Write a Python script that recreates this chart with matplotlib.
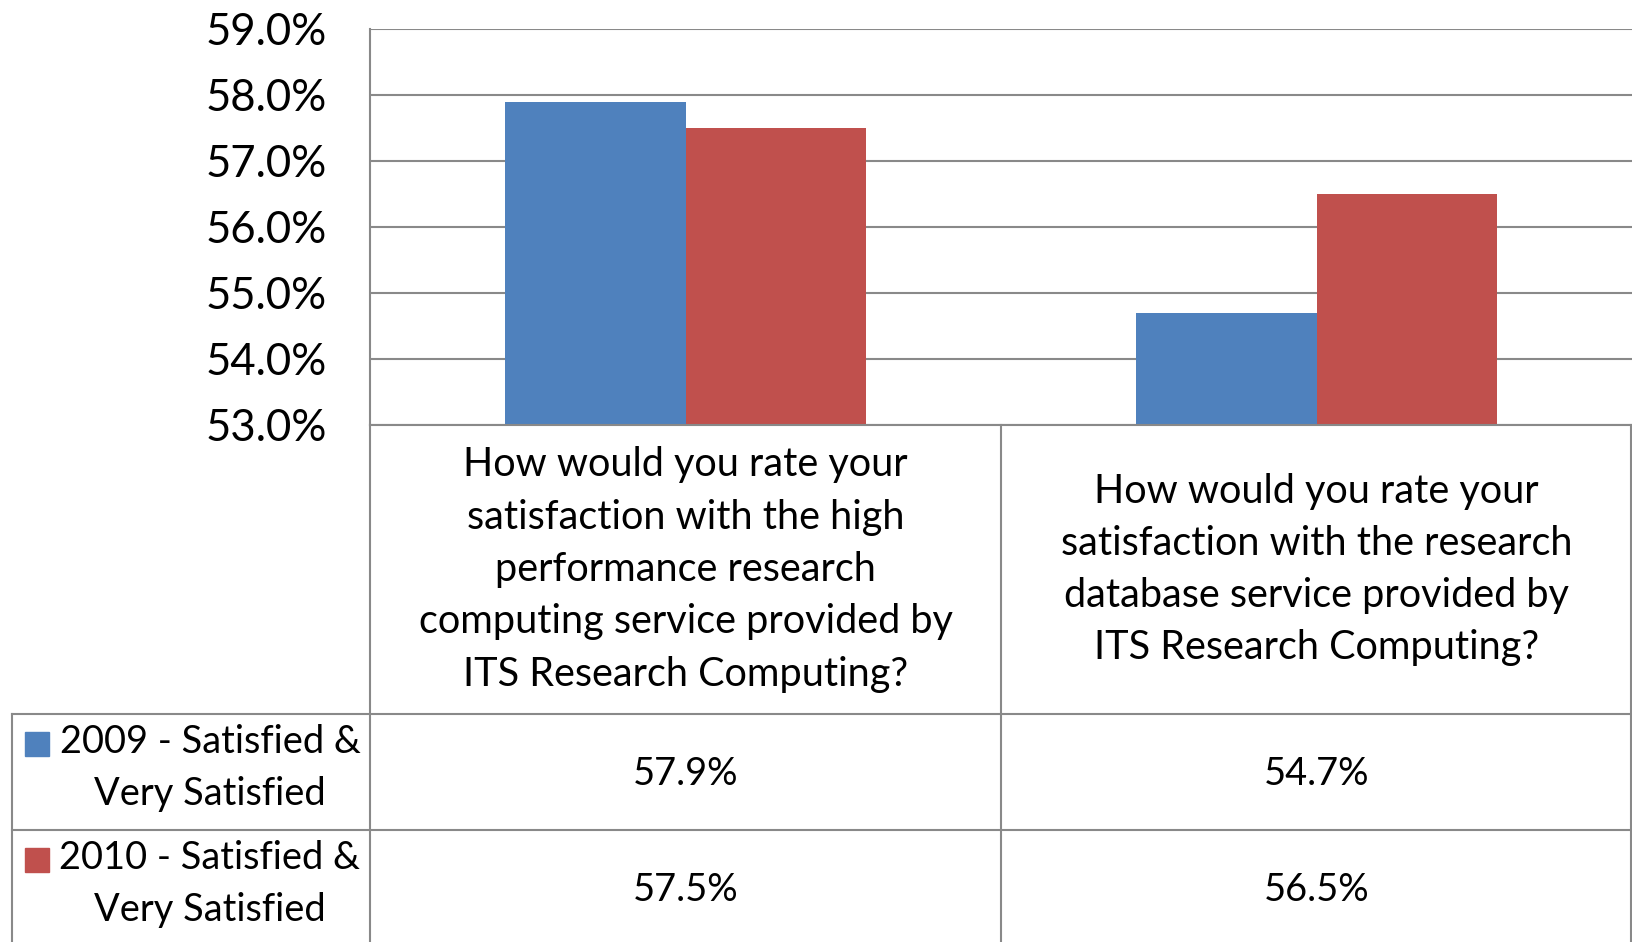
import matplotlib
matplotlib.use("Agg")
from matplotlib import pyplot as plt
from matplotlib.lines import Line2D
from matplotlib.patches import Rectangle
import numpy as np

plt.rcParams['font.family'] = ['Lato', 'DejaVu Sans']

questions = [
    "How would you rate your\nsatisfaction with the high\nperformance research\ncomputing service provided by\nITS Research Computing?",
    "How would you rate your\nsatisfaction with the research\ndatabase service provided by\nITS Research Computing?",
]
series = ["2009 - Satisfied &\nVery Satisfied", "2010 - Satisfied &\nVery Satisfied"]
values_2009 = [57.9, 54.7]
values_2010 = [57.5, 56.5]
colors = ["#4F81BD", "#C0504D"]
yticks = [53, 54, 55, 56, 57, 58, 59]

W, H = 1632, 942
fig = plt.figure(figsize=(W / 100, H / 100), dpi=100)

def fx(px):
    return px / W

def fy(py):
    return 1 - py / H

# pixel layout
left, right, top, bottom = 370, 1632, 29, 425
head_bot, row1_bot = 714, 830
leg_left = 12
grid = "#898989"

ax = fig.add_axes([fx(left), fy(bottom), fx(right) - fx(left), fy(top) - fy(bottom)])
x = np.arange(len(questions))
w = 1 / 3.5
ax.bar(x - w / 2, values_2009, w, color=colors[0], zorder=3)
ax.bar(x + w / 2, values_2010, w, color=colors[1], zorder=3)
ax.set_xlim(-0.5, len(questions) - 0.5)
ax.set_ylim(yticks[0], yticks[-1])
ax.set_yticks(yticks)
ax.set_yticklabels([f"{v:.1f}%" for v in yticks], fontsize=31.5)
ax.tick_params(axis="y", length=0, pad=31)
ax.set_xticks([])
ax.yaxis.grid(True, color=grid, lw=1.5, zorder=0)
for s in ["top", "right", "bottom"]:
    ax.spines[s].set_visible(False)
ax.spines["left"].set_color(grid)
ax.spines["left"].set_linewidth(1.5)

def hline(y, x0, x1):
    fig.add_artist(Line2D([fx(x0), fx(x1)], [fy(y), fy(y)], color=grid, lw=1.5))

def vline(x0, y0, y1):
    fig.add_artist(Line2D([fx(x0), fx(x0)], [fy(y0), fy(y1)], color=grid, lw=1.5))

# table grid
col_w = (right - left) / len(questions)
hline(bottom, left, right)
hline(head_bot, leg_left, right)
hline(row1_bot, leg_left, right)
vline(left, bottom, H)
vline(left + col_w, bottom, H)
vline(right - 1, bottom, H)
vline(leg_left, head_bot, H)

# header text
for i, q in enumerate(questions):
    fig.text(fx(left + col_w * (i + 0.5)), fy((bottom + head_bot) / 2), q,
             ha="center", va="center", fontsize=28.5, linespacing=1.51)

# legend rows and values
row_h = row1_bot - head_bot
for r, (vals, name) in enumerate(zip([values_2009, values_2010], series)):
    y0 = head_bot + r * row_h
    fig.add_artist(Rectangle((fx(25), fy(y0 + 42)), fx(24), fy(y0) - fy(y0 + 24),
                             color=colors[r]))
    fig.text(fx(210), fy(y0 + 54), name, ha="center", va="center",
             fontsize=27.4, linespacing=1.57)
    for i, v in enumerate(vals):
        fig.text(fx(left + col_w * (i + 0.5)), fy(y0 + row_h / 2 + 2), f"{v:.1f}%",
                 ha="center", va="center", fontsize=27.4)

fig.savefig("out.png", dpi=100)
